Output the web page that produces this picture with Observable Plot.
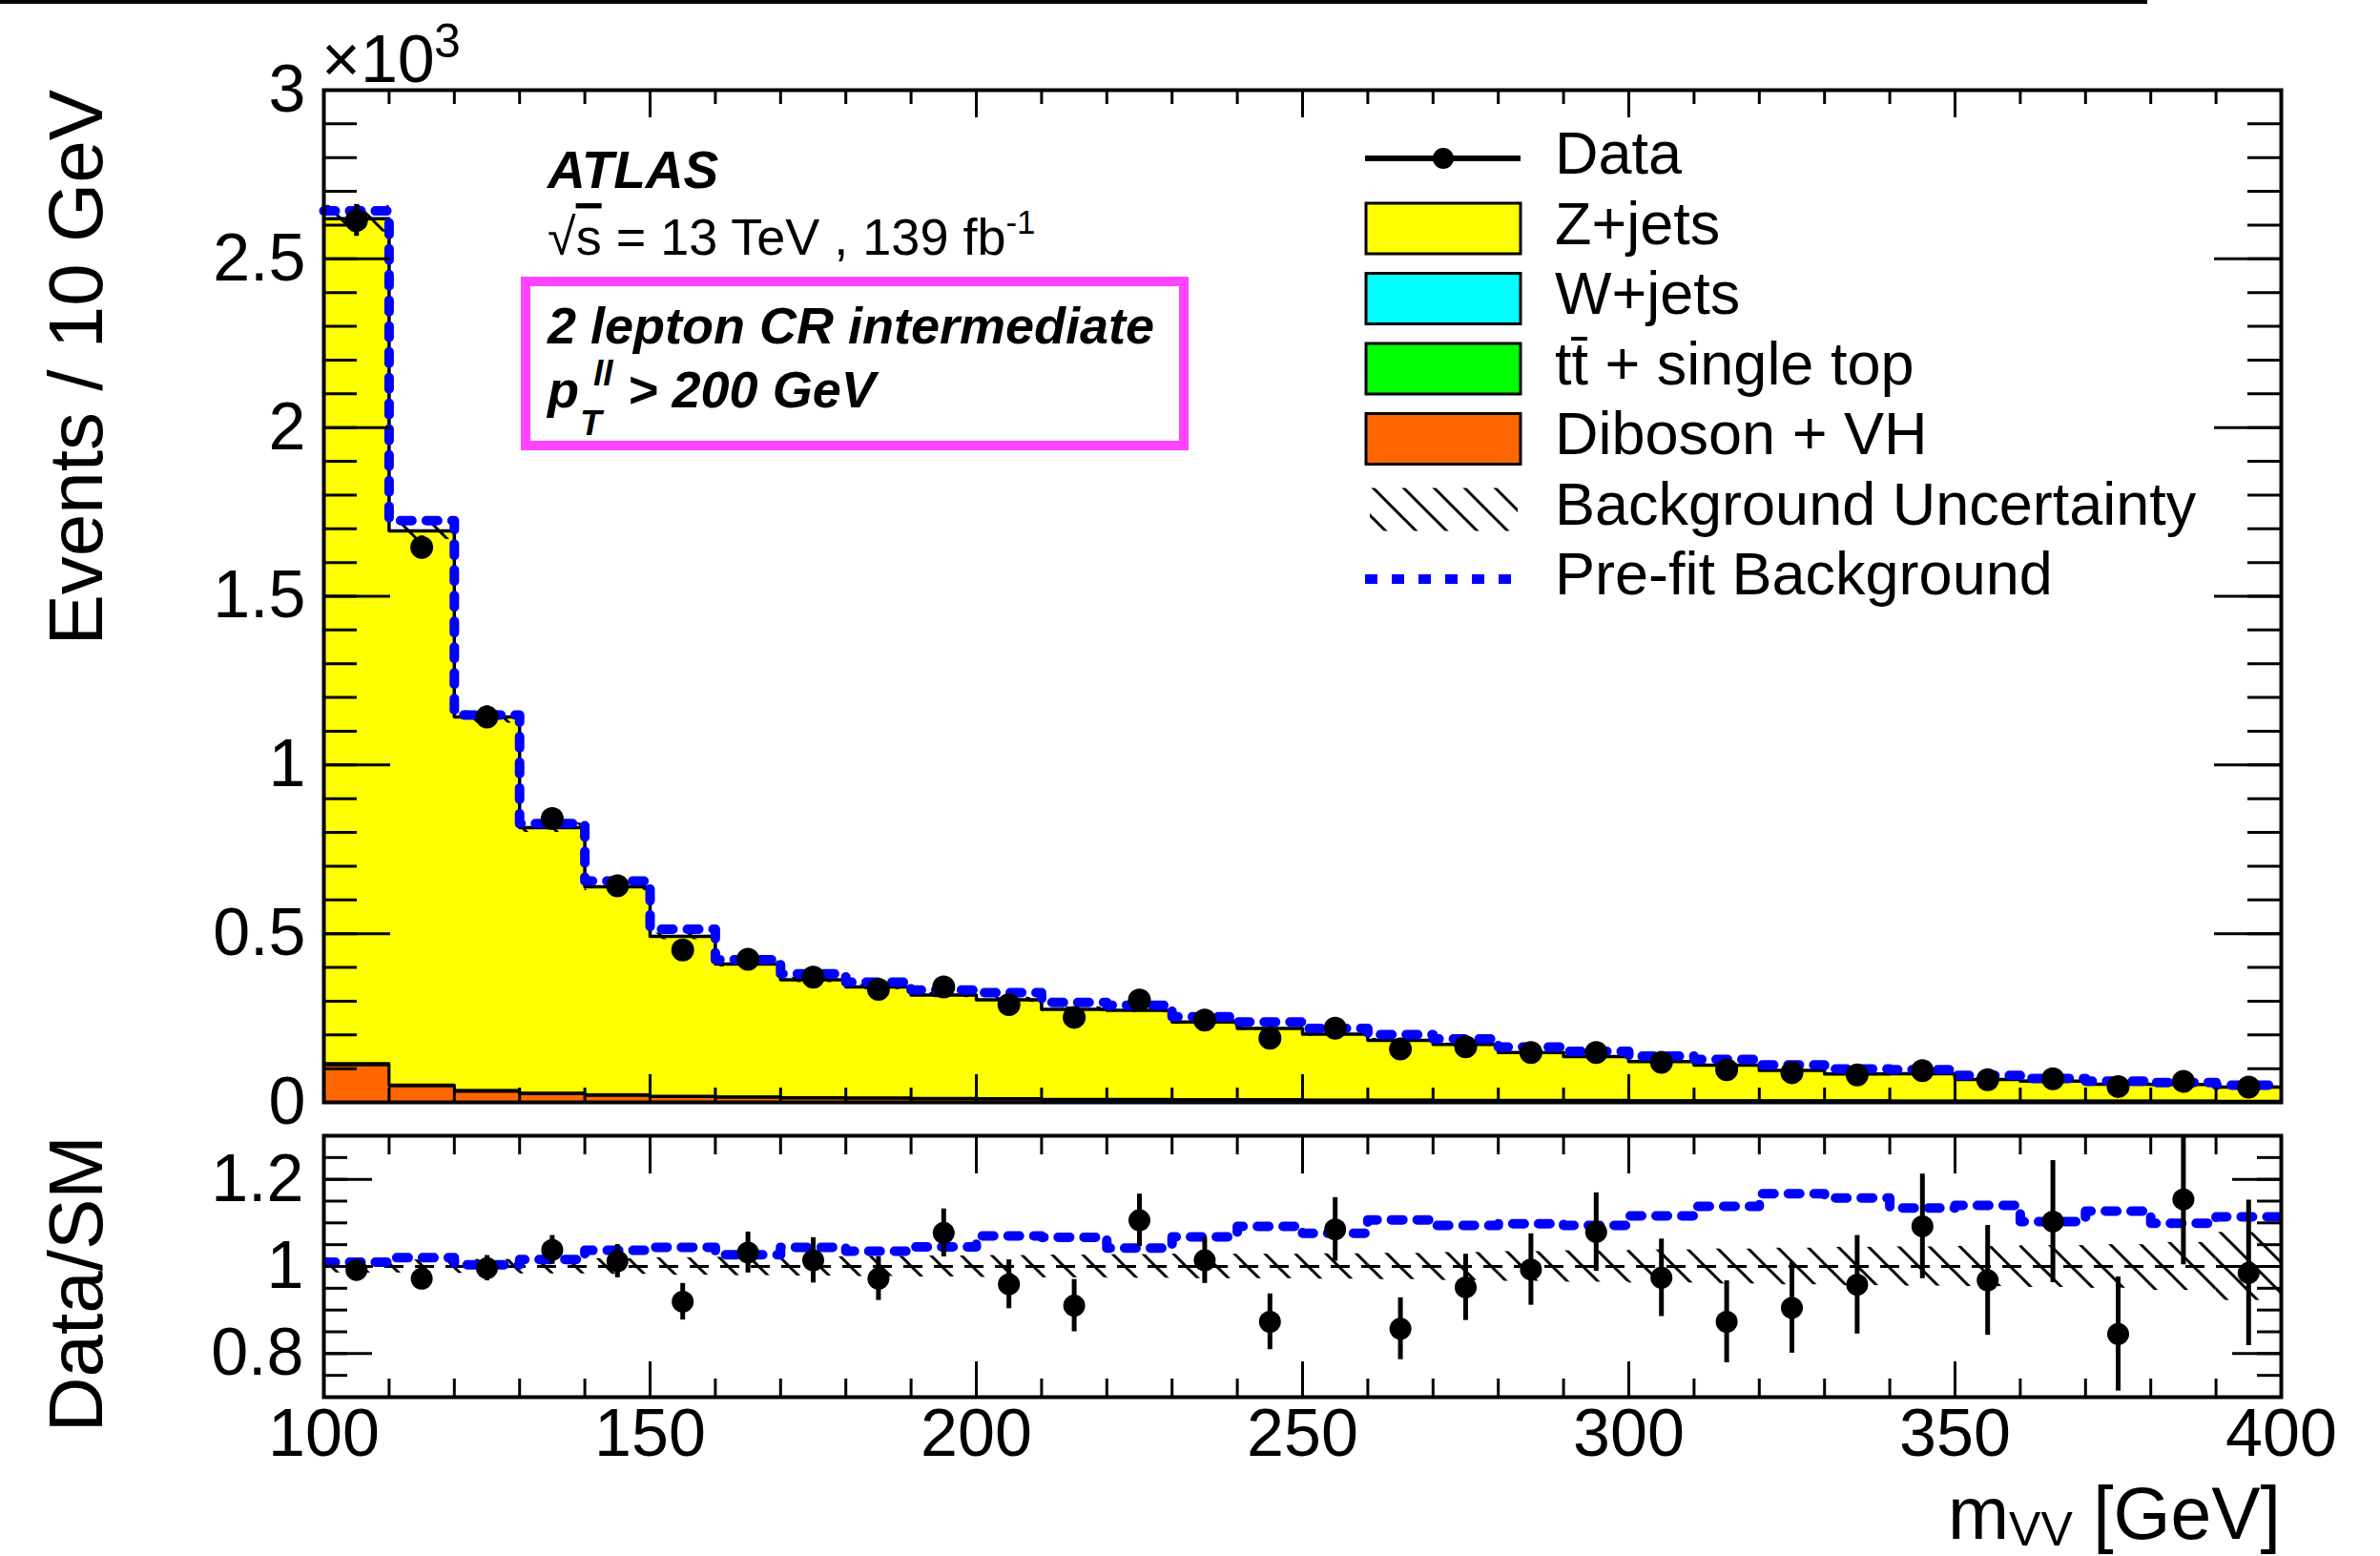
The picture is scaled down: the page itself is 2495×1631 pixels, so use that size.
<!DOCTYPE html>
<html><head><meta charset="utf-8">
<script src="https://cdn.jsdelivr.net/npm/d3@7"></script>
<script src="https://cdn.jsdelivr.net/npm/@observablehq/plot@0.6"></script>
<style>
html,body{margin:0;padding:0;background:#fff;overflow:hidden;}
#wrap{position:relative;width:2495px;height:1631px;font-family:"Liberation Sans",Arial,Helvetica,sans-serif;}
#wrap > svg{position:absolute;left:0;margin:0;max-width:none;}
</style></head><body><div id="wrap"></div>
<script>
// ---------------- data ----------------
const binLo = [100,110,120,130,140,150,160,170,180,190,200,210,220,230,240,250,260,270,280,290,300,310,320,330,340,350,360,370,380,390];
const dataEvents = [2614,1645,1142,841,642,452,424,371,335,342,290,252,303,244,190,220,158,165,148,148,119,97,88,81,94,67,70,47,62,45];
const zjets   = [2503,1642,1106,786,616,473,393,348,328,305,292,266,263,229,210,194,176,165,141,129,115,104,89,78,80,63,58,49,48,41];
const wjets   = [2,1,1,1,1,1,1,1,1,1,1,1,1,1,1,1,1,1,1,1,1,1,1,1,1,1,1,1,1,1];
const ttbar   = [4,3,3,2,2,2,2,2,2,2,2,1,1,1,1,1,1,1,1,1,1,1,1,1,1,1,1,1,1,1];
const diboson = [110,48,32,25,20,16,14,12,11,10,9,8,8,7,7,6,6,5,5,5,4,4,4,4,3,3,3,3,3,2];
const prefitBkg = [2642,1724,1148,826,656,513,423,381,356,333,325,296,288,254,238,219,201,188,164,151,137,127,111,99,97,80,71,63,59,51];
const ratioData = [0.992,0.972,0.996,1.038,1.012,0.919,1.032,1.014,0.972,1.077,0.959,0.910,1.106,1.014,0.873,1.085,0.857,0.952,0.993,1.079,0.974,0.873,0.905,0.958,1.092,0.968,1.103,0.845,1.154,0.985];
const ratioErr  = [0.018,0.020,0.029,0.033,0.038,0.042,0.047,0.052,0.050,0.055,0.056,0.060,0.060,0.053,0.064,0.073,0.071,0.076,0.082,0.090,0.089,0.094,0.104,0.113,0.120,0.126,0.140,0.131,0.150,0.167];
const prefitRatio = [1.010,1.020,1.004,1.016,1.037,1.044,1.027,1.044,1.035,1.045,1.070,1.067,1.042,1.068,1.092,1.076,1.107,1.094,1.098,1.094,1.116,1.138,1.167,1.157,1.134,1.140,1.103,1.127,1.099,1.114];
const bkgUnc = [0.015,0.015,0.016,0.017,0.018,0.020,0.021,0.022,0.023,0.024,0.025,0.026,0.027,0.028,0.028,0.029,0.030,0.032,0.034,0.036,0.038,0.040,0.042,0.044,0.045,0.046,0.048,0.050,0.055,0.078];

const xTicks = [100,150,200,250,300,350,400];
const xTickLabels = ["100","150","200","250","300","350","400"];
const yTicksTop = [0,500,1000,1500,2000,2500,3000];
const yTickLabelsTop = ["0","0.5","1","1.5","2","2.5","3"];
const yTicksRatio = [0.8,1.0,1.2];
const yTickLabelsRatio = ["0.8","1","1.2"];

const processColors = ["#ff6600","#00ff00","#00ffff","#ffff00"]; // Diboson+VH, ttbar+single top, W+jets, Z+jets

// ---------------- derived tables ----------------
const FONT = '"Liberation Sans", Arial, Helvetica, sans-serif';
const layerVals = [diboson, ttbar, wjets, zjets];
let cum = binLo.map(() => 0);
const layers = layerVals.map((vals, k) => {
  const y1 = cum.slice();
  const y2 = cum.map((c, i) => c + vals[i]);
  cum = y2;
  return {y1, y2, color: processColors[k]};
});
const totalBkg = cum;
const bins = binLo.map((lo, i) => ({
  lo, hi: lo + 10, c: lo + 5,
  data: dataEvents[i], tot: totalBkg[i], unc: bkgUnc[i],
  err: ratioErr[i] * totalBkg[i],
  r: ratioData[i], rErr: ratioErr[i]
}));
function stepArea(y1, y2) {
  const pts = [];
  binLo.forEach((lo, i) => { pts.push({x: lo, y1: y1[i], y2: y2[i]}); pts.push({x: lo + 10, y1: y1[i], y2: y2[i]}); });
  return pts;
}
function stepLine(v) {
  const pts = [];
  binLo.forEach((lo, i) => { pts.push({x: lo, y: v[i]}); pts.push({x: lo + 10, y: v[i]}); });
  return pts;
}
function tickMarks(FW, FH, o) {
  const minX = d3.range(100, 401, 10);
  const s = {stroke: "black", strokeWidth: 3};
  return [
    Plot.tickX(minX, {x: d => d, insetBottom: FH - o.xMinT, ...s}),
    Plot.tickX(xTicks, {x: d => d, insetBottom: FH - o.xMajT, ...s}),
    Plot.tickX(minX, {x: d => d, insetTop: FH - o.xMinB, ...s}),
    Plot.tickX(xTicks, {x: d => d, insetTop: FH - o.xMajB, ...s}),
    Plot.tickY(o.yMin, {y: d => d, insetRight: FW - o.yMinL, ...s}),
    Plot.tickY(o.yMaj, {y: d => d, insetRight: FW - o.yMajL, ...s}),
    Plot.tickY(o.yMin, {y: d => d, insetLeft: FW - o.yMinL, ...s}),
    Plot.tickY(o.yMaj, {y: d => d, insetLeft: FW - o.yMajL, ...s})
  ];
}

const wrap = document.getElementById("wrap");
const FW = 2052;

// ---------------- top panel ----------------
const topPlot = Plot.plot({
  width: 2495, height: 1172,
  marginLeft: 339, marginRight: 104, marginTop: 94, marginBottom: 17,
  x: {domain: [100, 400], axis: null},
  y: {domain: [0, 3000], axis: null},
  style: {fontFamily: FONT, background: "transparent", overflow: "visible"},
  marks: [
    ...layers.map(L => Plot.area(stepArea(L.y1, L.y2), {x1: "x", y1: "y1", y2: "y2", fill: L.color})),
    ...layers.map((L, k) => Plot.line(stepLine(L.y2), {x: "x", y: "y", stroke: "black", strokeWidth: k === 3 ? 3.5 : 2.5})),
    Plot.rect(bins, {x1: "lo", x2: "hi", y1: d => d.tot * (1 - d.unc), y2: d => d.tot * (1 + d.unc), fill: "url(#hatch)"}),
    Plot.line(stepLine(prefitBkg), {x: "x", y: "y", stroke: "#0000ff", strokeWidth: 10, strokeDasharray: "12,15"}),
    Plot.ruleX(bins, {x: "c", y1: d => d.data - d.err, y2: d => d.data + d.err, stroke: "black", strokeWidth: 5}),
    Plot.dot(bins, {x: "c", y: "data", r: 12, fill: "black"}),
    ...tickMarks(FW, 1061, {xMinT: 15, xMajT: 29, xMinB: 15, xMajB: 29,
      yMin: d3.range(0, 3001, 100), yMaj: yTicksTop, yMinL: 35, yMajL: 70}),
    Plot.text(yTicksTop, {y: d => d, text: (d, i) => yTickLabelsTop[i], frameAnchor: "left", textAnchor: "end", dx: -19, fontSize: 70, fill: "black"}),
    Plot.frame({stroke: "black", strokeWidth: 4})
  ]
});
topPlot.style.top = "0px";
wrap.appendChild(topPlot);

// ---------------- ratio panel ----------------
const bottomPlot = Plot.plot({
  width: 2495, height: 459,
  marginLeft: 339, marginRight: 104, marginTop: 18, marginBottom: 167,
  x: {domain: [100, 400], axis: null},
  y: {domain: [0.7, 1.3], axis: null},
  style: {fontFamily: FONT, background: "transparent", overflow: "visible"},
  marks: [
    Plot.rect(bins, {x1: "lo", x2: "hi", y1: d => 1 - d.unc, y2: d => 1 + d.unc, fill: "url(#hatch)"}),
    Plot.ruleY([1], {stroke: "black", strokeWidth: 3, strokeDasharray: "20,12"}),
    Plot.line(stepLine(prefitRatio), {x: "x", y: "y", stroke: "#0000ff", strokeWidth: 10, strokeDasharray: "12,15", clip: true}),
    Plot.ruleX(bins, {x: "c", y1: d => d.r - d.rErr, y2: d => d.r + d.rErr, stroke: "black", strokeWidth: 5, clip: true}),
    Plot.dot(bins, {x: "c", y: "r", r: 11.5, fill: "black"}),
    ...tickMarks(FW, 274, {xMinT: 20, xMajT: 40, xMinB: 19, xMajB: 37,
      yMin: d3.range(14, 27).map(k => k * 0.05), yMaj: yTicksRatio, yMinL: 25, yMajL: 51}),
    Plot.text(yTicksRatio, {y: d => d, text: (d, i) => yTickLabelsRatio[i], frameAnchor: "left", textAnchor: "end", dx: -21, fontSize: 70, fill: "black"}),
    Plot.text(xTicks, {x: d => d, text: (d, i) => xTickLabels[i], frameAnchor: "bottom", lineAnchor: "top", dy: 12, fontSize: 70, fill: "black"}),
    Plot.frame({stroke: "black", strokeWidth: 4})
  ]
});
bottomPlot.style.top = "1172px";
wrap.appendChild(bottomPlot);

// ---------------- overlay: pattern, titles, annotations, legend ----------------
const ov = d3.select(wrap).append("svg")
  .attr("width", 2495).attr("height", 1631)
  .style("position", "absolute").style("left", "0px").style("top", "0px")
  .style("pointer-events", "none").style("font-family", FONT);
const pat = ov.append("defs").append("pattern").attr("id", "hatch")
  .attr("patternUnits", "userSpaceOnUse").attr("width", 32).attr("height", 32);
pat.append("path").attr("d", "M0,0L32,32M-8,24L8,40M24,-8L40,8")
  .attr("stroke", "black").attr("stroke-width", 3).attr("fill", "none");

ov.append("rect").attr("x", 0).attr("y", 0).attr("width", 2251).attr("height", 4).attr("fill", "black");

ov.append("text").attr("x", 337).attr("y", 86).attr("font-size", 70).text("\u00d710");
ov.append("text").attr("x", 455).attr("y", 60).attr("font-size", 50).text("3");

ov.append("text").attr("transform", "translate(107,94) rotate(-90)").attr("text-anchor", "end")
  .attr("font-size", 80).text("Events / 10 GeV");
ov.append("text").attr("transform", "translate(107,1190) rotate(-90)").attr("text-anchor", "end")
  .attr("font-size", 80).text("Data/SM");
const xt = ov.append("text").attr("x", 2391).attr("y", 1613).attr("text-anchor", "end").attr("font-size", 77);
xt.append("tspan").text("m");
xt.append("tspan").attr("font-size", 50).attr("dy", 7).text("VV");
xt.append("tspan").attr("dy", -7).text(" [GeV]");

ov.append("text").attr("x", 574).attr("y", 197).attr("font-size", 55)
  .attr("font-weight", "bold").attr("font-style", "italic").text("ATLAS");
const rs = ov.append("text").attr("x", 574).attr("y", 267).attr("font-size", 54);
rs.append("tspan").text("\u221a");
rs.append("tspan").attr("text-decoration", "overline").text("s");
rs.append("tspan").text(" = 13 TeV , 139 fb");
rs.append("tspan").attr("font-size", 35).attr("dy", -22).text("-1");

ov.append("rect").attr("x", 551).attr("y", 295).attr("width", 690).attr("height", 172)
  .attr("fill", "none").attr("stroke", "#ff44ff").attr("stroke-width", 10);
const bi = s => s.attr("font-weight", "bold").attr("font-style", "italic");
bi(ov.append("text").attr("x", 574).attr("y", 360).attr("font-size", 54)).text("2 lepton CR intermediate");
bi(ov.append("text").attr("x", 574).attr("y", 427).attr("font-size", 54)).text("p");
bi(ov.append("text").attr("x", 622).attr("y", 404).attr("font-size", 37)).text("ll");
bi(ov.append("text").attr("x", 608).attr("y", 456).attr("font-size", 37)).text("T");
bi(ov.append("text").attr("x", 658).attr("y", 427).attr("font-size", 54)).text("> 200 GeV");

const legendItems = [
  {label: "Data", kind: "data"},
  {label: "Z+jets", kind: "box", color: processColors[3]},
  {label: "W+jets", kind: "box", color: processColors[2]},
  {label: "tt\u0304 + single top", kind: "box", color: processColors[1]},
  {label: "Diboson + VH", kind: "box", color: processColors[0]},
  {label: "Background Uncertainty", kind: "hatch"},
  {label: "Pre-fit Background", kind: "dash"}
];
legendItems.forEach((it, i) => {
  const cy = 166 + i * 73.5;
  const g = ov.append("g");
  if (it.kind === "data") {
    g.append("line").attr("x1", 1431).attr("x2", 1594).attr("y1", cy).attr("y2", cy).attr("stroke", "black").attr("stroke-width", 6);
    g.append("circle").attr("cx", 1513).attr("cy", cy).attr("r", 11).attr("fill", "black");
  } else if (it.kind === "box") {
    g.append("rect").attr("x", 1432).attr("y", cy - 26.5).attr("width", 162).attr("height", 53)
      .attr("fill", it.color).attr("stroke", "black").attr("stroke-width", 3);
  } else if (it.kind === "hatch") {
    g.append("rect").attr("x", 1436).attr("y", cy - 22).attr("width", 155).attr("height", 45).attr("fill", "url(#hatch)");
  } else {
    g.append("line").attr("x1", 1431).attr("x2", 1592).attr("y1", cy).attr("y2", cy)
      .attr("stroke", "#0000ff").attr("stroke-width", 10).attr("stroke-dasharray", "13,15");
  }
  g.append("text").attr("x", 1630).attr("y", cy + 16).attr("font-size", 63).text(it.label);
});
</script></body></html>
